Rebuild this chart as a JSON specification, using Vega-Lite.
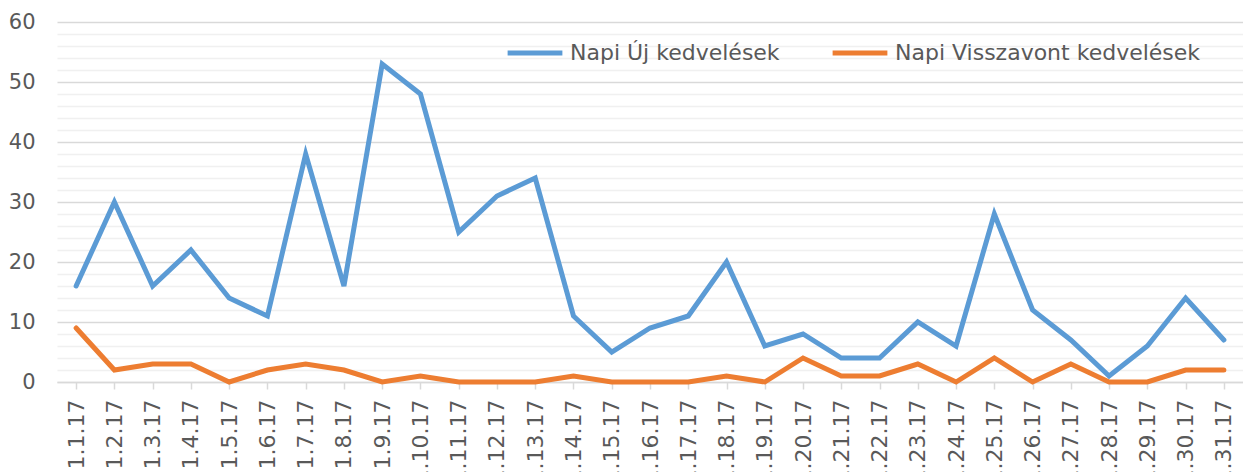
{
  "$schema": "https://vega.github.io/schema/vega-lite/v6.json",
  "width": 1186,
  "height": 360,
  "autosize": {"type": "none"},
  "padding": {"left": 57, "top": 22, "right": 0, "bottom": 90},
  "background": "white",
  "config": {
    "font": "DejaVu Sans",
    "view": {"stroke": null}
  },
  "data": {
    "values": [
      {"d": "1.1.17", "s": "Napi Új kedvelések", "v": 16},
      {"d": "1.2.17", "s": "Napi Új kedvelések", "v": 30},
      {"d": "1.3.17", "s": "Napi Új kedvelések", "v": 16},
      {"d": "1.4.17", "s": "Napi Új kedvelések", "v": 22},
      {"d": "1.5.17", "s": "Napi Új kedvelések", "v": 14},
      {"d": "1.6.17", "s": "Napi Új kedvelések", "v": 11},
      {"d": "1.7.17", "s": "Napi Új kedvelések", "v": 38},
      {"d": "1.8.17", "s": "Napi Új kedvelések", "v": 16},
      {"d": "1.9.17", "s": "Napi Új kedvelések", "v": 53},
      {"d": "1.10.17", "s": "Napi Új kedvelések", "v": 48},
      {"d": "1.11.17", "s": "Napi Új kedvelések", "v": 25},
      {"d": "1.12.17", "s": "Napi Új kedvelések", "v": 31},
      {"d": "1.13.17", "s": "Napi Új kedvelések", "v": 34},
      {"d": "1.14.17", "s": "Napi Új kedvelések", "v": 11},
      {"d": "1.15.17", "s": "Napi Új kedvelések", "v": 5},
      {"d": "1.16.17", "s": "Napi Új kedvelések", "v": 9},
      {"d": "1.17.17", "s": "Napi Új kedvelések", "v": 11},
      {"d": "1.18.17", "s": "Napi Új kedvelések", "v": 20},
      {"d": "1.19.17", "s": "Napi Új kedvelések", "v": 6},
      {"d": "1.20.17", "s": "Napi Új kedvelések", "v": 8},
      {"d": "1.21.17", "s": "Napi Új kedvelések", "v": 4},
      {"d": "1.22.17", "s": "Napi Új kedvelések", "v": 4},
      {"d": "1.23.17", "s": "Napi Új kedvelések", "v": 10},
      {"d": "1.24.17", "s": "Napi Új kedvelések", "v": 6},
      {"d": "1.25.17", "s": "Napi Új kedvelések", "v": 28},
      {"d": "1.26.17", "s": "Napi Új kedvelések", "v": 12},
      {"d": "1.27.17", "s": "Napi Új kedvelések", "v": 7},
      {"d": "1.28.17", "s": "Napi Új kedvelések", "v": 1},
      {"d": "1.29.17", "s": "Napi Új kedvelések", "v": 6},
      {"d": "1.30.17", "s": "Napi Új kedvelések", "v": 14},
      {"d": "1.31.17", "s": "Napi Új kedvelések", "v": 7},
      {"d": "1.1.17", "s": "Napi Visszavont kedvelések", "v": 9},
      {"d": "1.2.17", "s": "Napi Visszavont kedvelések", "v": 2},
      {"d": "1.3.17", "s": "Napi Visszavont kedvelések", "v": 3},
      {"d": "1.4.17", "s": "Napi Visszavont kedvelések", "v": 3},
      {"d": "1.5.17", "s": "Napi Visszavont kedvelések", "v": 0},
      {"d": "1.6.17", "s": "Napi Visszavont kedvelések", "v": 2},
      {"d": "1.7.17", "s": "Napi Visszavont kedvelések", "v": 3},
      {"d": "1.8.17", "s": "Napi Visszavont kedvelések", "v": 2},
      {"d": "1.9.17", "s": "Napi Visszavont kedvelések", "v": 0},
      {"d": "1.10.17", "s": "Napi Visszavont kedvelések", "v": 1},
      {"d": "1.11.17", "s": "Napi Visszavont kedvelések", "v": 0},
      {"d": "1.12.17", "s": "Napi Visszavont kedvelések", "v": 0},
      {"d": "1.13.17", "s": "Napi Visszavont kedvelések", "v": 0},
      {"d": "1.14.17", "s": "Napi Visszavont kedvelések", "v": 1},
      {"d": "1.15.17", "s": "Napi Visszavont kedvelések", "v": 0},
      {"d": "1.16.17", "s": "Napi Visszavont kedvelések", "v": 0},
      {"d": "1.17.17", "s": "Napi Visszavont kedvelések", "v": 0},
      {"d": "1.18.17", "s": "Napi Visszavont kedvelések", "v": 1},
      {"d": "1.19.17", "s": "Napi Visszavont kedvelések", "v": 0},
      {"d": "1.20.17", "s": "Napi Visszavont kedvelések", "v": 4},
      {"d": "1.21.17", "s": "Napi Visszavont kedvelések", "v": 1},
      {"d": "1.22.17", "s": "Napi Visszavont kedvelések", "v": 1},
      {"d": "1.23.17", "s": "Napi Visszavont kedvelések", "v": 3},
      {"d": "1.24.17", "s": "Napi Visszavont kedvelések", "v": 0},
      {"d": "1.25.17", "s": "Napi Visszavont kedvelések", "v": 4},
      {"d": "1.26.17", "s": "Napi Visszavont kedvelések", "v": 0},
      {"d": "1.27.17", "s": "Napi Visszavont kedvelések", "v": 3},
      {"d": "1.28.17", "s": "Napi Visszavont kedvelések", "v": 0},
      {"d": "1.29.17", "s": "Napi Visszavont kedvelések", "v": 0},
      {"d": "1.30.17", "s": "Napi Visszavont kedvelések", "v": 2},
      {"d": "1.31.17", "s": "Napi Visszavont kedvelések", "v": 2}
    ]
  },
  "mark": {"type": "line", "strokeWidth": 5, "strokeCap": "round", "strokeJoin": "miter"},
  "encoding": {
    "x": {
      "field": "d",
      "type": "nominal",
      "sort": null,
      "scale": {"paddingInner": 0, "paddingOuter": 0},
      "axis": {
        "title": null,
        "labelAngle": -90,
        "labelFontSize": 22,
        "labelColor": "#595959",
        "labelPadding": 10,
        "bandPosition": 0,
        "tickColor": "#d9d9d9",
        "tickWidth": 1.5,
        "tickSize": 7,
        "domainColor": "#d9d9d9",
        "domainWidth": 1.5,
        "grid": false,
        "labelOverlap": false,
        "labelBound": false
      }
    },
    "y": {
      "field": "v",
      "type": "quantitative",
      "scale": {"domain": [0, 60], "nice": false},
      "axis": {
        "title": null,
        "values": [0, 2, 4, 6, 8, 10, 12, 14, 16, 18, 20, 22, 24, 26, 28, 30, 32, 34, 36, 38, 40, 42, 44, 46, 48, 50, 52, 54, 56, 58, 60],
        "labelExpr": "datum.value % 10 === 0 ? datum.label : ''",
        "labelFontSize": 21,
        "labelColor": "#595959",
        "labelPadding": 22,
        "ticks": false,
        "domain": false,
        "grid": true,
        "gridColor": {"condition": {"test": "datum.value % 10 === 0", "value": "#d9d9d9"}, "value": "#f0f0f0"},
        "gridWidth": 1.5
      }
    },
    "color": {
      "field": "s",
      "type": "nominal",
      "scale": {
        "domain": ["Napi Új kedvelések", "Napi Visszavont kedvelések"],
        "range": ["#5b9bd5", "#ed7d31"]
      },
      "legend": {
        "title": null,
        "orient": "none",
        "direction": "horizontal",
        "legendX": 448,
        "legendY": 1,
        "padding": 0,
        "symbolType": "stroke",
        "symbolSize": 3000,
        "symbolStrokeWidth": 5,
        "labelFontSize": 22,
        "labelColor": "#595959",
        "labelOffset": 5,
        "labelLimit": 0,
        "columnPadding": 42
      }
    }
  }
}
